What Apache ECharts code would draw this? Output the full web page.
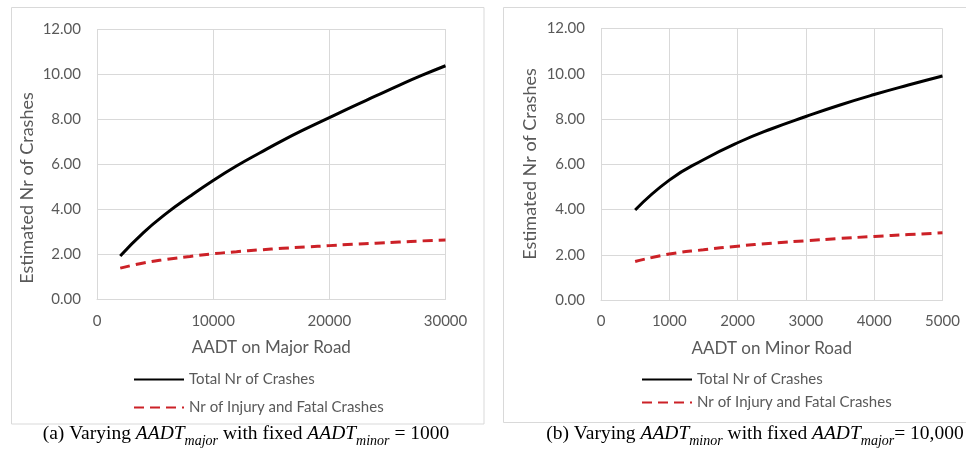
<!DOCTYPE html>
<html><head><meta charset="utf-8">
<script src="https://cdn.jsdelivr.net/npm/echarts@6/dist/echarts.min.js"></script>
<style>html,body{margin:0;padding:0;background:#fff}#c{width:966px;height:451px}</style>
</head><body><div id="c"></div>
<script>
// ---- data ----
const majorX = [2000, 4000, 6000, 8000, 10000, 12000, 14000, 16000, 18000, 20000, 22000, 24000, 26000, 28000, 30000];
const majorTotal = [1.93, 2.97, 3.83, 4.58, 5.28, 5.92, 6.50, 7.06, 7.58, 8.07, 8.56, 9.03, 9.50, 9.95, 10.37];
const majorInjury = [1.39, 1.62, 1.78, 1.91, 2.03, 2.12, 2.20, 2.27, 2.33, 2.39, 2.45, 2.50, 2.55, 2.60, 2.64];
const minorX = [500, 1000, 1500, 2000, 2500, 3000, 3500, 4000, 4500, 5000];
const minorTotal = [3.98, 5.30, 6.20, 6.95, 7.57, 8.11, 8.62, 9.08, 9.50, 9.90];
const minorInjury = [1.70, 2.03, 2.22, 2.38, 2.51, 2.62, 2.72, 2.81, 2.89, 2.97];
const seriesNames = ['Total Nr of Crashes', 'Nr of Injury and Fatal Crashes'];
const xAxisNames = ['AADT on Major Road', 'AADT on Minor Road'];
const yAxisName = 'Estimated Nr of Crashes';
const xMax = [30000, 5000];
const xInterval = [10000, 1000];
const yMax = 12, yInterval = 2;
const captionA = '{n|(a) Varying }{i|AADT}{s|major}{n| with fixed }{i|AADT}{s|minor}{n| = 1000}';
const captionB = '{n|(b) Varying }{i|AADT}{s|minor}{n| with fixed }{i|AADT}{s|major}{n|= 10,000}';

// ---- styles ----
const GRAY = '#595959', GRID = '#d9d9d9', RED = '#cc2127';
const SANS = 'Lato';
const pairs = (xs, ys) => xs.map((x, i) => [x, ys[i]]);

function xAxis(i) {
  return {
    type: 'value', gridIndex: i, min: 0, max: xMax[i], interval: xInterval[i],
    name: xAxisNames[i], nameLocation: 'middle', nameGap: 40,
    nameTextStyle: { color: GRAY, fontSize: 17, fontFamily: SANS },
    axisLine: { show: true, lineStyle: { color: GRID, width: 1 } },
    axisTick: { show: false },
    axisLabel: { color: GRAY, fontSize: 15, fontFamily: SANS, margin: 14, formatter: v => String(v) },
    splitLine: { show: true, lineStyle: { color: GRID, width: 1 } }
  };
}
function yAxis(i) {
  return {
    type: 'value', gridIndex: i, min: 0, max: yMax, interval: yInterval,
    axisLine: { show: false }, axisTick: { show: false },
    axisLabel: { color: GRAY, fontSize: 15, fontFamily: SANS, margin: 16, formatter: v => v.toFixed(2) },
    splitLine: { show: true, lineStyle: { color: GRID, width: 1 } }
  };
}
function line(name, i, data, dashed) {
  return {
    type: 'line', name: name, xAxisIndex: i, yAxisIndex: i, data: data,
    smooth: true, showSymbol: false, symbol: 'none',
    lineStyle: dashed ? { color: RED, width: 3, type: [10, 6], cap: 'butt' } : { color: '#000', width: 3 },
    itemStyle: { color: dashed ? RED : '#000' }
  };
}
function legend(left, top, gap) {
  return {
    orient: 'vertical', left: left, top: top, padding: 0, itemWidth: 50, itemHeight: 14, itemGap: gap,
    data: seriesNames,
    itemStyle: { opacity: 0, borderWidth: 0 },
    textStyle: { color: GRAY, fontSize: 15, fontFamily: SANS }
  };
}
const rich = {
  n: { fontFamily: 'Liberation Serif', fontSize: 19.5, lineHeight: 24, verticalAlign: 'top', fill: '#000' },
  i: { fontFamily: 'Liberation Serif', fontStyle: 'italic', fontSize: 19.5, lineHeight: 24, verticalAlign: 'top', fill: '#000' },
  s: { fontFamily: 'Liberation Serif', fontStyle: 'italic', fontSize: 14, lineHeight: 10, verticalAlign: 'bottom', fill: '#000' }
};

const chart = echarts.init(document.getElementById('c'), null, { renderer: 'canvas' });
chart.setOption({
  animation: false,
  backgroundColor: '#fff',
  grid: [
    { left: 97, top: 29, width: 348.5, height: 270.5 },
    { left: 601, top: 28.5, width: 341.5, height: 271.5 }
  ],
  xAxis: [xAxis(0), xAxis(1)],
  yAxis: [yAxis(0), yAxis(1)],
  legend: [legend(133, 372, 13), legend(641, 372, 8)],
  series: [
    line(seriesNames[0], 0, pairs(majorX, majorTotal), false),
    line(seriesNames[1], 0, pairs(majorX, majorInjury), true),
    line(seriesNames[0], 1, pairs(minorX, minorTotal), false),
    line(seriesNames[1], 1, pairs(minorX, minorInjury), true)
  ],
  graphic: [
    { type: 'rect', z: -10, shape: { x: 11.5, y: 7.5, width: 472.5, height: 416.5 }, style: { fill: 'none', stroke: GRID, lineWidth: 1 } },
    { type: 'rect', z: -10, shape: { x: 503.5, y: 7.5, width: 470, height: 415 }, style: { fill: 'none', stroke: GRID, lineWidth: 1 } },
    { type: 'text', x: 27, y: 188, rotation: Math.PI / 2,
      style: { text: yAxisName, fill: GRAY, fontSize: 18, fontFamily: SANS, align: 'center', verticalAlign: 'middle' } },
    { type: 'text', x: 530, y: 164, rotation: Math.PI / 2,
      style: { text: yAxisName, fill: GRAY, fontSize: 18, fontFamily: SANS, align: 'center', verticalAlign: 'middle' } },
    { type: 'text', x: 246, y: 436, style: { text: captionA, rich: rich, align: 'center', verticalAlign: 'middle' } },
    { type: 'text', x: 755, y: 436, style: { text: captionB, rich: rich, align: 'center', verticalAlign: 'middle' } }
  ]
});
</script></body></html>
